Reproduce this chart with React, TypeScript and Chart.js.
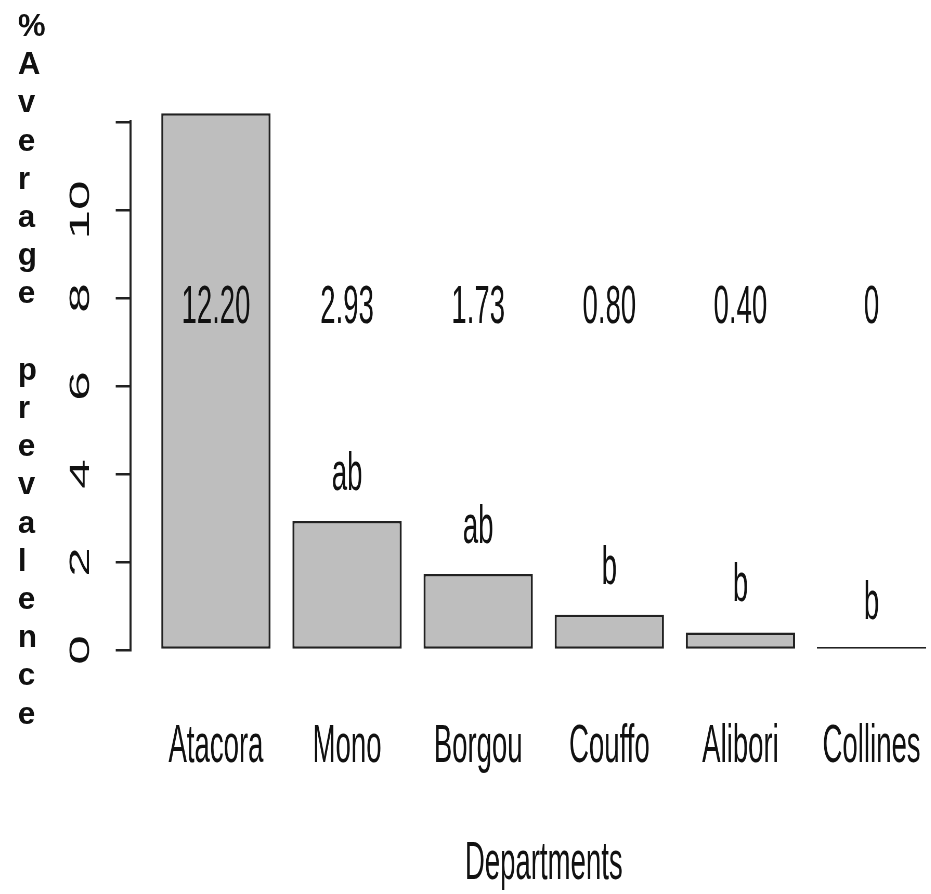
import React, { useEffect, useRef } from "react";
import { Chart, registerables } from "chart.js";

Chart.register(...registerables);

// ---- data ----
const categories = ["Atacora", "Mono", "Borgou", "Couffo", "Alibori", "Collines"];
const values = [12.2, 2.93, 1.73, 0.8, 0.4, 0];
const valueLabels = ["12.20", "2.93", "1.73", "0.80", "0.40", "0"];
const groupLetters = ["", "ab", "ab", "b", "b", "b"];
const yTickValues = [0, 2, 4, 6, 8, 10, 12];
const yTickLabels = ["0", "2", "4", "6", "8", "10", ""];
const xTitle = "Departments";
const yTitle = "%Average prevalence";

// R barplot layout (width 1, space 0.2)
const xPositions = categories.map((_, i) => 0.7 + 1.2 * i);
const LABEL_Y = 8;

const FAMILY = "'Liberation Sans', Arial, sans-serif";
const S = 0.52; // horizontal squish of the whole picture
const CANVAS_W = 1840;
const CANVAS_H = 894;

const annotationPlugin = {
  id: "annotations",
  afterDatasetsDraw(chart: any) {
    const { ctx } = chart;
    const x = chart.scales.x;
    const y = chart.scales.y;
    ctx.save();
    ctx.fillStyle = "#111";
    ctx.textAlign = "center";
    ctx.textBaseline = "alphabetic";
    ctx.font = `53px ${FAMILY}`;
    categories.forEach((_, i) => {
      const px = x.getPixelForValue(xPositions[i]);
      ctx.fillText(valueLabels[i], px, y.getPixelForValue(LABEL_Y) + 25);
      if (groupLetters[i]) {
        ctx.fillText(groupLetters[i], px, y.getPixelForValue(values[i]) - 31);
      }
    });
    ctx.font = `bold 31px ${FAMILY}`;
    ctx.textAlign = "left";
    yTitle.split("").forEach((ch, k) => {
      ctx.save();
      ctx.translate(18 / S, 36 + 38.2 * k);
      ctx.scale(1 / S, 1);
      ctx.fillText(ch, 0, 0);
      ctx.restore();
    });
    ctx.restore();
  },
};

export default function App() {
  const ref = useRef<HTMLCanvasElement | null>(null);

  useEffect(() => {
    if (!ref.current) return;
    const chart = new Chart(ref.current, {
      type: "bar",
      data: {
        datasets: [
          {
            data: values.map((v, i) => ({ x: xPositions[i], y: v })),
            backgroundColor: "#BEBEBE",
            borderColor: "#222",
            borderWidth: { top: 2.5, bottom: 2.5, left: 4, right: 4 },
            borderSkipped: false,
            minBarLength: 3,
            categoryPercentage: 1,
            barPercentage: 1 / 1.2,
            clip: false,
          } as any,
        ],
      },
      options: {
        animation: false,
        responsive: true,
        maintainAspectRatio: false,
        devicePixelRatio: 1,
        layout: { padding: { top: 122, left: 0, right: 0, bottom: 0 } },
        plugins: { legend: { display: false }, tooltip: { enabled: false } },
        scales: {
          x: {
            type: "linear",
            offset: false,
            min: -0.08,
            max: 7.48,
            afterBuildTicks: (s: any) => {
              s.ticks = xPositions.map((v) => ({ value: v }));
            },
            afterFit: (s: any) => {
              s.height = CANVAS_H - 650;
            },
            ticks: {
              autoSkip: false,
              minRotation: 0,
              maxRotation: 0,
              padding: 58,
              color: "#111",
              font: { size: 53, family: FAMILY, lineHeight: 1.2 },
              callback: (_v: any, i: number) => categories[i],
            },
            grid: { display: false, offset: false },
            border: { display: false },
            title: {
              display: true,
              text: xTitle,
              color: "#111",
              font: { size: 53, family: FAMILY, lineHeight: 1 },
              padding: { top: 0, bottom: 3 },
            },
          } as any,
          y: {
            min: 0,
            max: 12,
            afterBuildTicks: (s: any) => {
              s.ticks = yTickValues.map((v) => ({ value: v }));
            },
            afterFit: (s: any) => {
              s.width = 130.7 / S;
            },
            ticks: {
              autoSkip: false,
              minRotation: 90,
              maxRotation: 90,
              crossAlign: "center",
              padding: 37,
              color: "#111",
              font: { size: 53, family: FAMILY, lineHeight: 1.2 },
              callback: (v: any) => yTickLabels[yTickValues.indexOf(Number(v))] ?? "",
            },
            grid: {
              drawOnChartArea: false,
              drawTicks: true,
              tickLength: 15 / S,
              color: "#222",
              lineWidth: 2.5,
            },
            border: { display: true, color: "#222", width: 4 },
          } as any,
        },
      },
      plugins: [annotationPlugin],
    });
    return () => chart.destroy();
  }, []);

  return (
    <div
      style={{
        position: "absolute",
        left: 0,
        top: 0,
        width: 931,
        height: 894,
        overflow: "hidden",
        background: "#fff",
      }}
    >
      <div
        style={{
          width: CANVAS_W,
          height: CANVAS_H,
          transform: `scaleX(${S})`,
          transformOrigin: "0 0",
        }}
      >
        <canvas ref={ref} />
      </div>
    </div>
  );
}
